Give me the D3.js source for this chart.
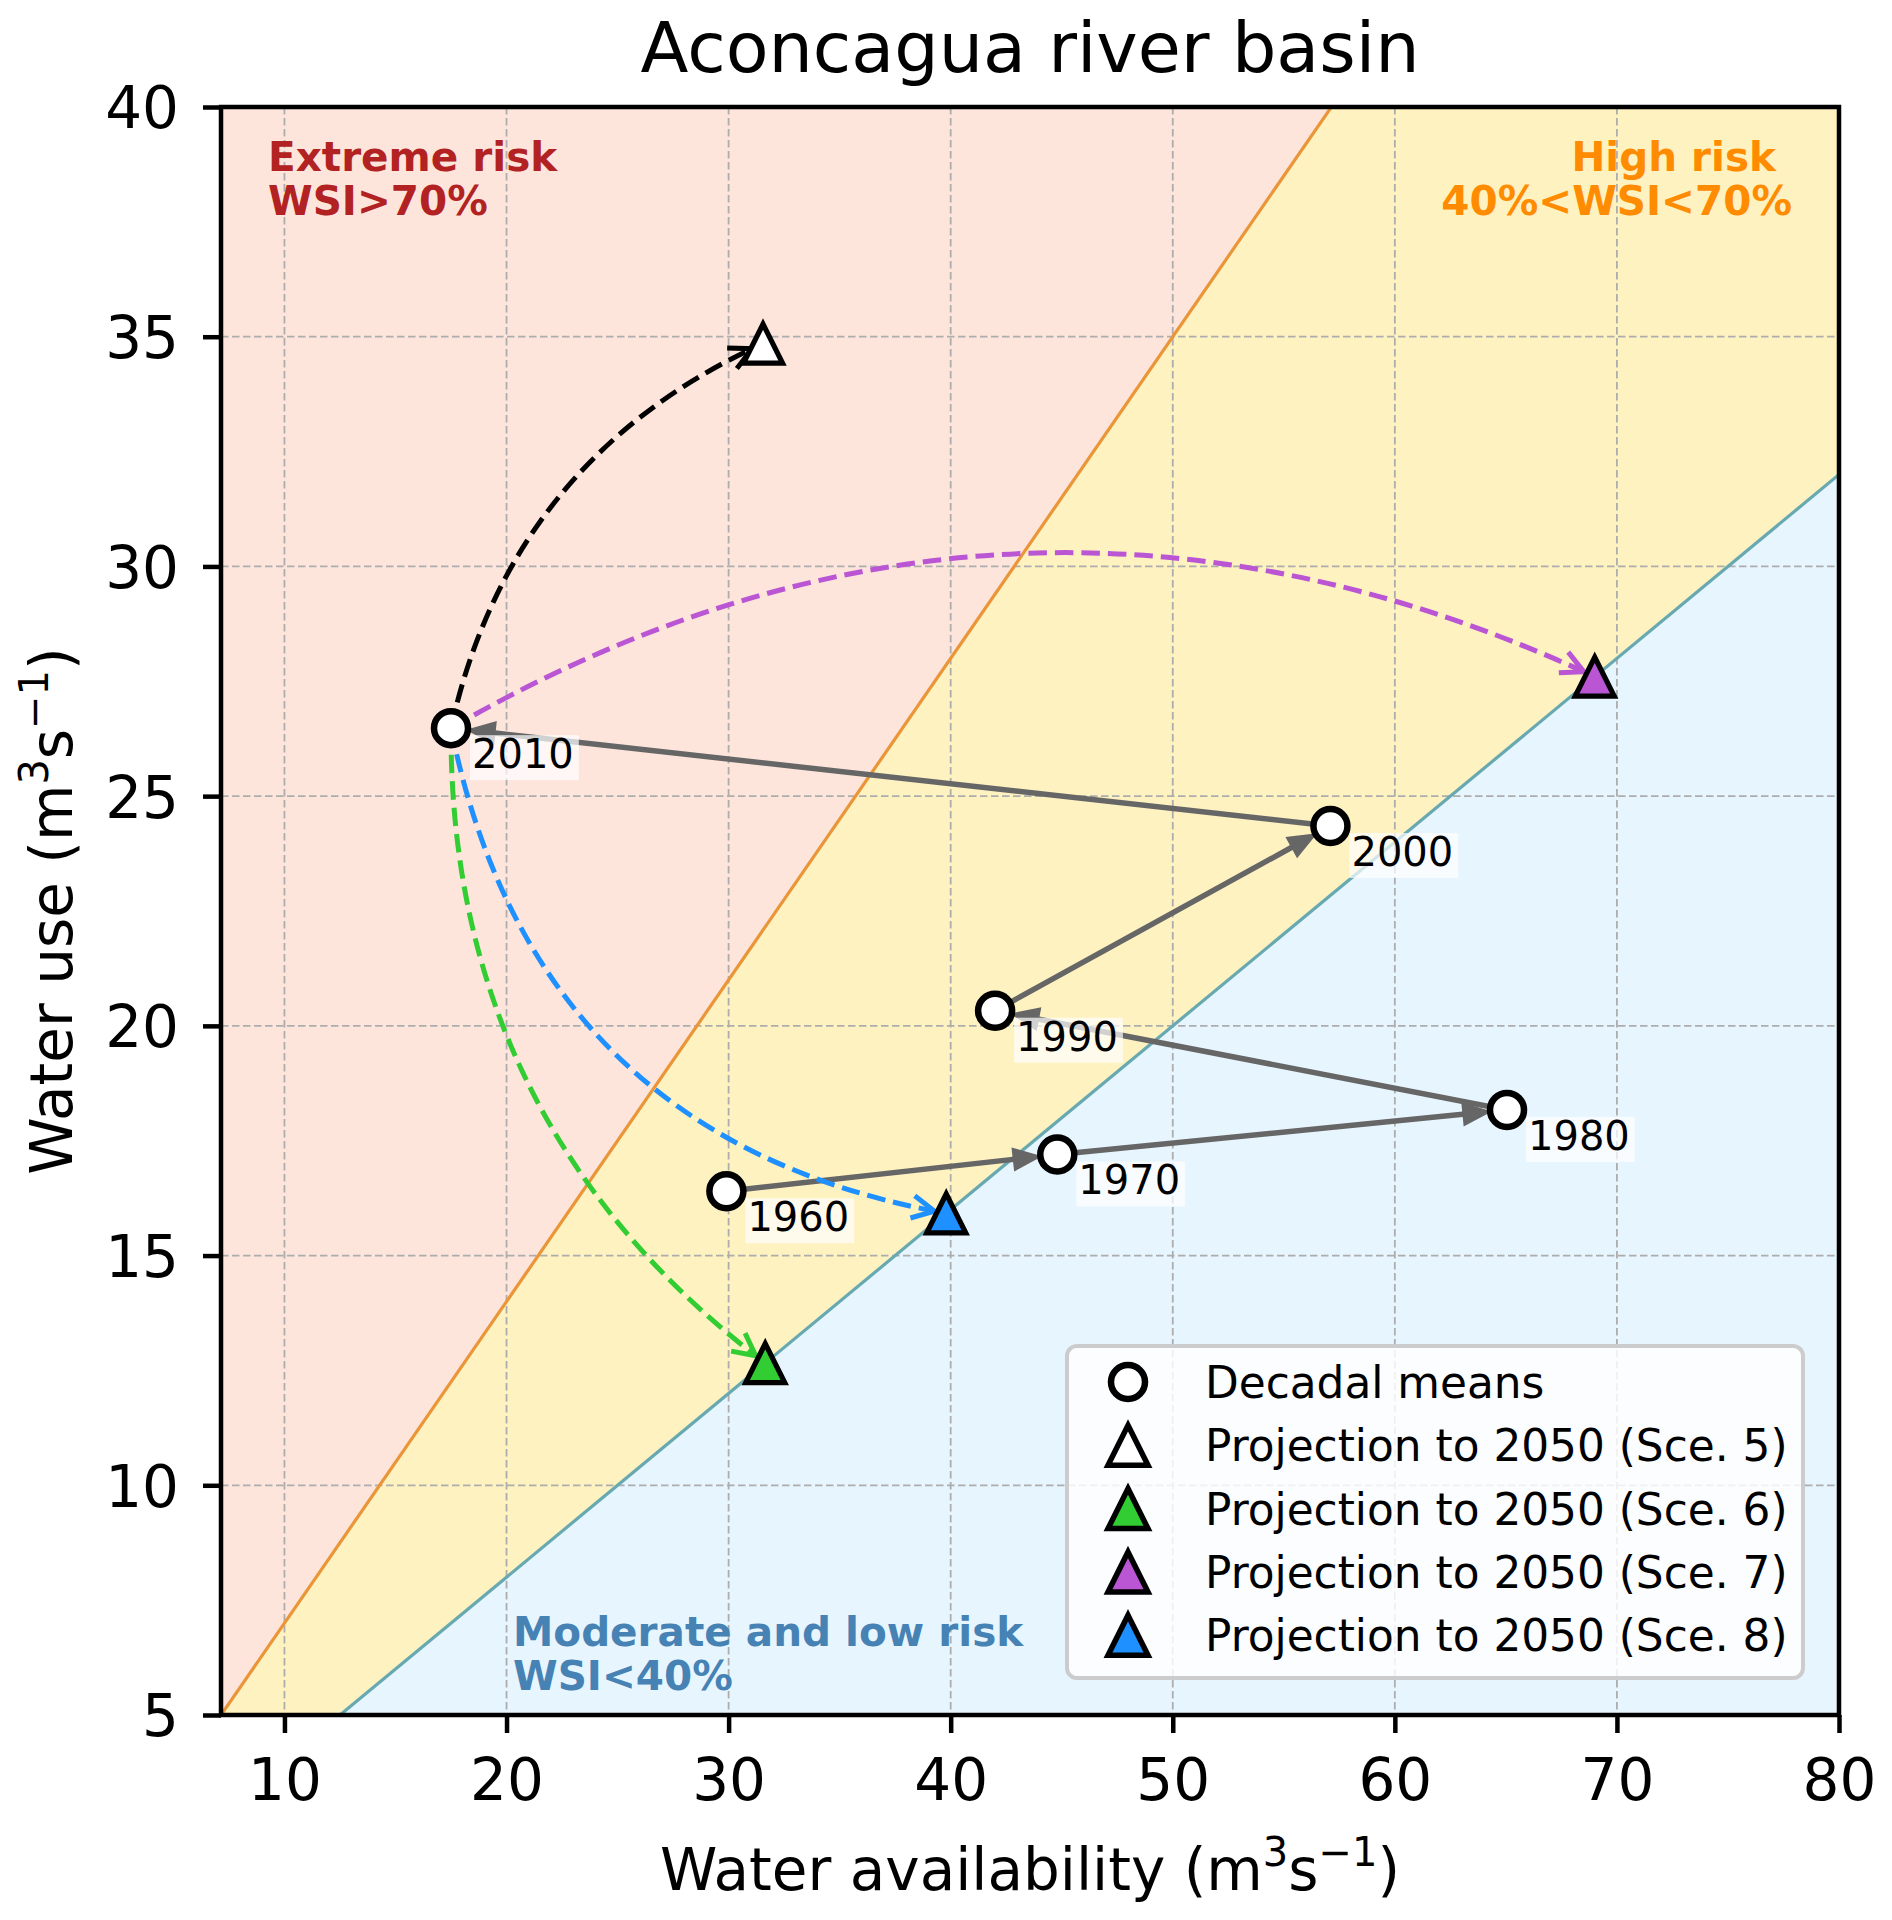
<!DOCTYPE html>
<html><head><meta charset="utf-8">
<script src="https://cdn.jsdelivr.net/npm/d3@7"></script>
<style>
body{margin:0;background:#ffffff}
text{font-family:"DejaVu Sans",sans-serif}
</style>
</head><body>
<svg id="chart" width="1892" height="1920"></svg>
<script>
// ---------------- data ----------------
const decades = ["1960", "1970", "1980", "1990", "2000", "2010"];
const decadalAvailability = [29.9, 44.8, 65.05, 42.0, 57.1, 17.5];
const decadalUse = [16.4, 17.2, 18.17, 20.33, 24.35, 26.48];

const scenarioLabels = ["Projection to 2050 (Sce. 5)", "Projection to 2050 (Sce. 6)",
                        "Projection to 2050 (Sce. 7)", "Projection to 2050 (Sce. 8)"];
const scenarioAvailability = [31.55, 31.65, 69.0, 39.8];
const scenarioUse = [34.85, 12.66, 27.6, 15.92];
const scenarioFill = ["#ffffff", "#32cd32", "#ba55d3", "#1e90ff"];
const scenarioArrowColor = ["#000000", "#32cd32", "#ba55d3", "#1e90ff"];
const scenarioCurvature = [-0.25, 0.25, -0.26, 0.34];

const wsiThresholds = [0.7, 0.4];
const xTicks = [10, 20, 30, 40, 50, 60, 70, 80];
const yTicks = [5, 10, 15, 20, 25, 30, 35, 40];
const xDomain = [5 / 0.7, 80];
const yDomain = [5, 40];

// ---------------- layout ----------------
const L = 221, R = 1839, T = 107, B = 1715;
const svg = d3.select("#chart");
const x = d3.scaleLinear().domain(xDomain).range([L, R]);
const y = d3.scaleLinear().domain(yDomain).range([B, T]);

const defs = svg.append("defs");
defs.append("clipPath").attr("id", "plotclip")
  .append("rect").attr("x", L).attr("y", T).attr("width", R - L).attr("height", B - T);

const plot = svg.append("g").attr("clip-path", "url(#plotclip)");

// ---------------- risk zones ----------------
const xsExt = [xDomain[0] - 50, xDomain[1] + 50];
const linePts = k => xsExt.map(v => [x(v), y(k * v)]);
const hi = wsiThresholds[0], lo = wsiThresholds[1];
const zones = [
  {pts: linePts(hi).concat([[x(xsExt[1]), y(300)], [x(xsExt[0]), y(300)]]), fill: "#fde5dc"},
  {pts: linePts(hi).concat(linePts(lo).reverse()), fill: "#fef2c0"},
  {pts: linePts(lo).concat([[x(xsExt[1]), y(-300)], [x(xsExt[0]), y(-300)]]), fill: "#e7f5fe"}
];
plot.selectAll("polygon.zone").data(zones).join("polygon")
  .attr("class", "zone")
  .attr("points", d => d.pts.map(p => p.join(",")).join(" "))
  .attr("fill", d => d.fill);

// ---------------- grid ----------------
plot.selectAll("line.gx").data(xTicks).join("line").attr("class", "gx")
  .attr("x1", d => x(d)).attr("x2", d => x(d)).attr("y1", T).attr("y2", B)
  .attr("stroke", "#adadad").attr("stroke-width", 1.8).attr("stroke-dasharray", "7.5,3.5");
plot.selectAll("line.gy").data(yTicks).join("line").attr("class", "gy")
  .attr("y1", d => y(d)).attr("y2", d => y(d)).attr("x1", L).attr("x2", R)
  .attr("stroke", "#adadad").attr("stroke-width", 1.8).attr("stroke-dasharray", "7.5,3.5");

// ---------------- WSI lines ----------------
const wsiColors = ["#ea9538", "#68a9b1"];
wsiThresholds.forEach((k, i) => {
  const p = linePts(k);
  plot.append("line").attr("x1", p[0][0]).attr("y1", p[0][1]).attr("x2", p[1][0]).attr("y2", p[1][1])
    .attr("stroke", wsiColors[i]).attr("stroke-width", 3.2);
});

// ---------------- decadal arrows ----------------
const dec = decades.map((d, i) => ({label: d, px: x(decadalAvailability[i]), py: y(decadalUse[i])}));
const arrowG = plot.append("g");
for (let i = 0; i < dec.length - 1; i++) {
  const a = dec[i], b = dec[i + 1];
  const dx = b.px - a.px, dy = b.py - a.py, len = Math.hypot(dx, dy);
  const ux = dx / len, uy = dy / len, nx = -uy, ny = ux;
  const tipX = b.px - ux * 17, tipY = b.py - uy * 17;
  const hl = 27, hw = 11;
  const bx = tipX - ux * hl, by = tipY - uy * hl;
  arrowG.append("line").attr("x1", a.px).attr("y1", a.py).attr("x2", bx + ux * 2).attr("y2", by + uy * 2)
    .attr("stroke", "#666666").attr("stroke-width", 5.5);
  arrowG.append("polygon")
    .attr("points", [[tipX, tipY], [bx + nx * hw, by + ny * hw], [bx - nx * hw, by - ny * hw]].map(p => p.join(",")).join(" "))
    .attr("fill", "#666666").attr("stroke", "#666666").attr("stroke-width", 1.5).attr("stroke-linejoin", "miter");
}

// ---------------- scenario curved arrows ----------------
const start = dec[dec.length - 1];
const scen = scenarioLabels.map((s, i) => ({
  label: s, px: x(scenarioAvailability[i]), py: y(scenarioUse[i]),
  fill: scenarioFill[i], color: scenarioArrowColor[i], rad: scenarioCurvature[i]
}));
const curveG = plot.append("g");
scen.forEach(s => {
  const P0 = [start.px, start.py], P2 = [s.px, s.py];
  const dx = P2[0] - P0[0], dy = P2[1] - P0[1];
  const mx = (P0[0] + P2[0]) / 2, my = (P0[1] + P2[1]) / 2;
  const C = [mx - s.rad * dy, my + s.rad * dx];
  const bez = t => [(1 - t) * (1 - t) * P0[0] + 2 * t * (1 - t) * C[0] + t * t * P2[0],
                    (1 - t) * (1 - t) * P0[1] + 2 * t * (1 - t) * C[1] + t * t * P2[1]];
  const shrink = 12;
  let lo_ = 0.5, hi_ = 1;
  for (let k = 0; k < 40; k++) {
    const mid = (lo_ + hi_) / 2, p = bez(mid);
    if (Math.hypot(p[0] - P2[0], p[1] - P2[1]) > shrink) lo_ = mid; else hi_ = mid;
  }
  const te = lo_;
  const Q1 = [P0[0] + te * (C[0] - P0[0]), P0[1] + te * (C[1] - P0[1])];
  const Q2 = bez(te);
  curveG.append("path")
    .attr("d", `M${P0[0]},${P0[1]} Q${Q1[0]},${Q1[1]} ${Q2[0]},${Q2[1]}`)
    .attr("fill", "none").attr("stroke", s.color).attr("stroke-width", 5)
    .attr("stroke-dasharray", "18.5,8");
  const tx = 2 * (1 - te) * (C[0] - P0[0]) + 2 * te * (P2[0] - C[0]);
  const ty = 2 * (1 - te) * (C[1] - P0[1]) + 2 * te * (P2[1] - C[1]);
  const tl = Math.hypot(tx, ty), ux = tx / tl, uy = ty / tl;
  const ang = 27 * Math.PI / 180, hl = 25;
  const rot = (a) => [ux * Math.cos(a) - uy * Math.sin(a), ux * Math.sin(a) + uy * Math.cos(a)];
  const r1 = rot(ang), r2 = rot(-ang);
  curveG.append("path")
    .attr("d", `M${Q2[0] - r1[0] * hl},${Q2[1] - r1[1] * hl} L${Q2[0]},${Q2[1]} L${Q2[0] - r2[0] * hl},${Q2[1] - r2[1] * hl}`)
    .attr("fill", "none").attr("stroke", s.color).attr("stroke-width", 5)
    .attr("stroke-linejoin", "miter").attr("stroke-linecap", "butt");
});

// ---------------- markers ----------------
const triPath = s => `M0,${-s} L${s},${s} L${-s},${s} Z`;
plot.selectAll("circle.dec").data(dec).join("circle").attr("class", "dec")
  .attr("cx", d => d.px).attr("cy", d => d.py).attr("r", 17)
  .attr("fill", "#ffffff").attr("stroke", "#000000").attr("stroke-width", 6.5);
plot.selectAll("path.scen").data(scen).join("path").attr("class", "scen")
  .attr("transform", d => `translate(${d.px},${d.py})`)
  .attr("d", triPath(19.5))
  .attr("fill", d => d.fill).attr("stroke", "#000000").attr("stroke-width", 5.2)
  .attr("stroke-linejoin", "miter");

// ---------------- decade labels ----------------
const labG = plot.append("g");
dec.forEach(d => {
  const tx = d.px + 21, ty = d.py + 40;
  const rect = labG.append("rect");
  const t = labG.append("text").attr("x", tx).attr("y", ty)
    .attr("font-size", 40).attr("fill", "#000").text(d.label);
  const w = t.node().getComputedTextLength();
  rect.attr("x", tx - 2).attr("y", ty - 33).attr("width", w + 7).attr("height", 45)
    .attr("fill", "#ffffff").attr("fill-opacity", 0.7);
});

// ---------------- zone labels ----------------
const zoneText = [
  {lines: ["Extreme risk", "WSI>70%"], xs: [268, 268], y: 171, anchor: "start", color: "#b22222"},
  {lines: ["High risk", "40%<WSI<70%"], xs: [1776, 1792], y: 171, anchor: "end", color: "#ff8c00"},
  {lines: ["Moderate and low risk", "WSI<40%"], xs: [513, 513], y: 1646, anchor: "start", color: "#4682b4"}
];
zoneText.forEach(z => {
  z.lines.forEach((ln, j) => {
    svg.append("text").attr("x", z.xs[j]).attr("y", z.y + j * 44)
      .attr("text-anchor", z.anchor).attr("font-size", 40.5).attr("font-weight", "bold")
      .attr("fill", z.color).text(ln);
  });
});

// ---------------- spines & axes ----------------
const xAxis = d3.axisBottom(x).tickValues(xTicks).tickSize(18).tickSizeOuter(0).tickPadding(26)
  .tickFormat(d3.format("d"));
const yAxis = d3.axisLeft(y).tickValues(yTicks).tickSize(18).tickSizeOuter(0).tickPadding(24)
  .tickFormat(d3.format("d"));
const gx = svg.append("g").attr("transform", `translate(0,${B})`).call(xAxis);
const gy = svg.append("g").attr("transform", `translate(${L},0)`).call(yAxis);
[gx, gy].forEach(g => {
  g.select(".domain").remove();
  g.selectAll(".tick line").attr("stroke", "#000").attr("stroke-width", 4.5);
  g.selectAll(".tick text").attr("font-size", 58).attr("fill", "#000")
    .attr("font-family", "DejaVu Sans, sans-serif");
});
gy.selectAll(".tick text").attr("dy", "0.36em");

svg.append("rect").attr("x", L).attr("y", T).attr("width", R - L).attr("height", B - T)
  .attr("fill", "none").attr("stroke", "#000").attr("stroke-width", 4.5);

// ---------------- title & axis labels ----------------
svg.append("text").attr("x", (L + R) / 2).attr("y", 72).attr("text-anchor", "middle")
  .attr("font-size", 70).attr("fill", "#000").text("Aconcagua river basin");

function unitLabel(sel, main) {
  sel.append("tspan").text(main + " (m");
  sel.append("tspan").attr("font-size", 40).attr("dy", -24).text("3");
  sel.append("tspan").attr("dy", 24).text("s");
  sel.append("tspan").attr("font-size", 40).attr("dy", -24).text("\u22121");
  sel.append("tspan").attr("dy", 24).text(")");
}
const xl = svg.append("text").attr("x", (L + R) / 2).attr("y", 1890).attr("text-anchor", "middle")
  .attr("font-size", 58).attr("fill", "#000");
unitLabel(xl, "Water availability");
const yl = svg.append("text").attr("transform", `translate(72,${(T + B) / 2}) rotate(-90)`)
  .attr("text-anchor", "middle").attr("font-size", 58).attr("fill", "#000");
unitLabel(yl, "Water use");

// ---------------- legend ----------------
const lg = svg.append("g");
lg.append("rect").attr("x", 1067).attr("y", 1346).attr("width", 736).attr("height", 332)
  .attr("rx", 10).attr("fill", "#ffffff").attr("fill-opacity", 0.82)
  .attr("stroke", "#cccccc").attr("stroke-width", 4);
const legendItems = [{label: "Decadal means", type: "circle", fill: "#ffffff"}]
  .concat(scen.map(s => ({label: s.label, type: "tri", fill: s.fill})));
legendItems.forEach((it, i) => {
  const cy = 1382 + i * 63.3;
  if (it.type === "circle") {
    lg.append("circle").attr("cx", 1128).attr("cy", cy).attr("r", 17)
      .attr("fill", it.fill).attr("stroke", "#000").attr("stroke-width", 6.5);
  } else {
    lg.append("path").attr("transform", `translate(1128,${cy})`).attr("d", triPath(20))
      .attr("fill", it.fill).attr("stroke", "#000").attr("stroke-width", 5.5).attr("stroke-linejoin", "miter");
  }
  lg.append("text").attr("x", 1205).attr("y", cy + 16).attr("font-size", 43.8)
    .attr("fill", "#000").text(it.label);
});
</script>
</body></html>
